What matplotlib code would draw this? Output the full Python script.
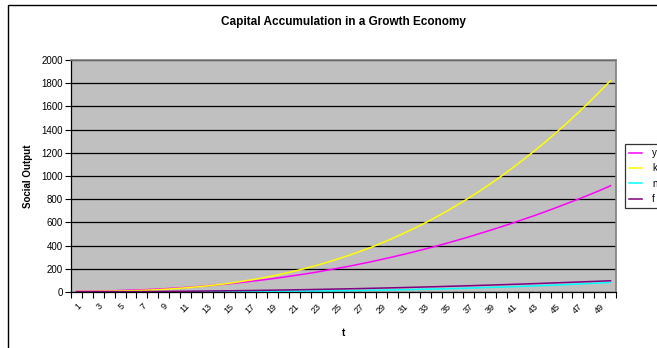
import matplotlib
matplotlib.use("Agg")
import matplotlib.pyplot as plt
from matplotlib.patches import Rectangle
import numpy as np

plt.rcParams['font.family'] = ['Liberation Sans', 'DejaVu Sans']

# Data (periods 1..50)
t = list(range(1, 51))
y_vals = [7, 8, 9, 10, 13, 16, 19, 23, 28, 33,
          39, 46, 54, 62, 71, 81, 92, 103, 115, 128,
          142, 156, 171, 188, 205, 222, 241, 260, 281, 302,
          324, 347, 371, 395, 421, 448, 475, 504, 533, 563,
          594, 626, 658, 692, 727, 763, 799, 836, 875, 916]
k_vals = [5, 5, 6, 7, 9, 11, 14, 18, 23, 29,
          36, 44, 53, 63, 75, 89, 104, 120, 138, 158,
          180, 203, 228, 256, 285, 316, 349, 384, 422, 462,
          505, 549, 596, 646, 698, 753, 811, 871, 934, 1000,
          1069, 1141, 1215, 1292, 1373, 1456, 1543, 1633, 1727, 1822]
n_vals = [0, 0, 0, 0, 0.1, 0.1, 0.2, 0.3, 0.5, 0.7,
          0.9, 1.2, 1.5, 1.8, 2.2, 2.7, 3.3, 3.9, 4.6, 5.3,
          6.2, 7.1, 8.1, 9.2, 10.4, 11.7, 13.1, 14.6, 16.2, 17.9,
          19.8, 21.8, 23.9, 26.1, 28.5, 31.0, 33.6, 36.4, 39.4, 42.5,
          45.8, 49.2, 52.8, 56.6, 60.5, 64.6, 68.9, 73.4, 78.1, 83.0]
f_vals = [2.0, 2.2, 2.3, 2.6, 3.0, 3.4, 3.9, 4.4, 5.1, 5.8,
          6.6, 7.5, 8.4, 9.4, 10.6, 11.7, 13.0, 14.3, 15.7, 17.2,
          18.8, 20.4, 22.1, 23.9, 25.8, 27.7, 29.7, 31.8, 34.0, 36.2,
          38.5, 40.9, 43.4, 45.9, 48.6, 51.2, 54.0, 56.9, 59.8, 62.8,
          65.9, 69.0, 72.3, 75.6, 79.0, 82.4, 85.9, 89.6, 93.2, 97.0]

series = [("y", y_vals, "#FF00FF"),
          ("k", k_vals, "#FFFF00"),
          ("n", n_vals, "#00FFFF"),
          ("f", f_vals, "#800080")]

W, H = 657, 348
fig = plt.figure(figsize=(W / 100, H / 100), dpi=100)

# outer chart border (runs off the right and bottom edges)
fig.patches.append(Rectangle((8 / W, -0.1), 1.1, 1 - 5 / H + 0.1,
                             transform=fig.transFigure, fill=False,
                             edgecolor="black", linewidth=1.0))

ax = fig.add_axes([71 / W, 1 - 292 / H, (616 - 71) / W, (292 - 60) / H])
ax.set_facecolor("#C0C0C0")

for name, vals, color in series:
    ax.plot(t, vals, color=color, linewidth=1.1, label=name)

ax.set_xlim(0.5, 50.5)
ax.set_ylim(0, 2000)
ax.set_yticks(np.arange(0, 2001, 200))
ax.yaxis.grid(True, color="black", linewidth=0.9)
ax.set_axisbelow(True)
ax.tick_params(axis="y", direction="out", length=4, width=0.8, labelsize=7, pad=2)

ax.set_xticks(t[::2])
ax.set_xticklabels([str(v) for v in t[::2]], rotation=45, ha="right",
                   va="top", rotation_mode="anchor")
ax.tick_params(axis="x", which="major", length=0, labelsize=6.5, pad=7)
ax.set_xticks(np.arange(0.5, 51, 1), minor=True)
ax.tick_params(axis="x", which="minor", direction="out", length=4, width=0.8)

for side in ["top", "right"]:
    ax.spines[side].set_color("#808080")
    ax.spines[side].set_linewidth(1.2)
for side in ["left", "bottom"]:
    ax.spines[side].set_color("black")
    ax.spines[side].set_linewidth(0.9)

ax.set_ylabel("Social Output", fontsize=7, fontweight="bold", labelpad=6)
ax.set_xlabel("t", fontsize=7, fontweight="bold", labelpad=9)

fig.text(343 / W, 1 - 22 / H, "Capital Accumulation in a Growth Economy",
         ha="center", va="center", fontsize=8.5, fontweight="bold")

leg = fig.legend(loc="lower left", bbox_to_anchor=(625 / W, 1 - 208 / H),
                 fontsize=7, frameon=True, fancybox=False, borderpad=0.4,
                 handlelength=1.3, handletextpad=1.1, labelspacing=0.55,
                 borderaxespad=0)
leg.get_frame().set_edgecolor("black")
leg.get_frame().set_linewidth(0.9)

fig.savefig("out.png", dpi=100)
